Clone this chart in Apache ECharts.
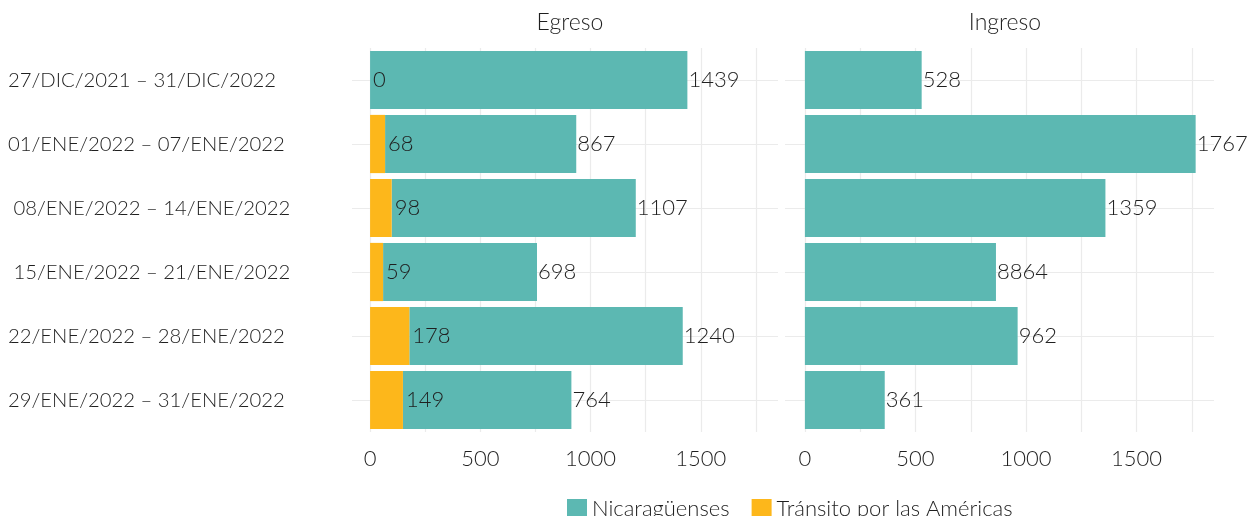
<!DOCTYPE html>
<html>
<head>
<meta charset="utf-8">
<script src="https://cdn.jsdelivr.net/npm/echarts@6/dist/echarts.min.js"></script>
<style>
  html, body { margin: 0; padding: 0; background: #fff; }
  #chart { width: 1249px; height: 516px; }
</style>
</head>
<body>
<div id="chart"></div>
<script>
// periodos (de arriba hacia abajo)
const categories = [
  "27/DIC/2021 – 31/DIC/2022",
  "01/ENE/2022 – 07/ENE/2022",
  " 08/ENE/2022 – 14/ENE/2022",
  " 15/ENE/2022 – 21/ENE/2022",
  "22/ENE/2022 – 28/ENE/2022",
  "29/ENE/2022 – 31/ENE/2022"
];
// Egreso
const egresoTransito = [0, 68, 98, 59, 178, 149];
const egresoNica = [1439, 867, 1107, 698, 1240, 764];
// Ingreso
const ingresoNica = [528, 1767, 1359, 864, 962, 361];
const ingresoLabels = ["528", "1767", "1359", "8864", "962", "361"]; // tal como aparece en la fuente
const tickLabels = [0, 500, 1000, 1500];
const gridValues = [0, 250, 500, 750, 1000, 1250, 1500, 1750];

const TEAL = "#5cb8b2";
const ORANGE = "#fdb71b";
const FONT = "Lato";
const TXT = "#1f1f1f";

const chart = echarts.init(document.getElementById("chart"));

// lineas de guia (verticales en valores, horizontales en el centro de cada categoria)
function guideLines() {
  const d = [];
  gridValues.forEach(v => d.push({ xAxis: v }));
  categories.forEach(c => d.push({ yAxis: c }));
  return d;
}
function guideSeries(idx) {
  return {
    type: "line",
    xAxisIndex: idx,
    yAxisIndex: idx,
    data: [],
    z: 0,
    silent: true,
    markLine: {
      z: 0,
      silent: true,
      symbol: ["none", "none"],
      label: { show: false },
      lineStyle: { color: "#ebebeb", width: 1.2, type: "solid" },
      animation: false,
      data: guideLines()
    }
  };
}

const valueAxis = (idx, min) => ({
  type: "value",
  gridIndex: idx,
  min: min,
  max: 1850,
  splitLine: { show: false },
  axisLine: { show: false },
  axisTick: { show: false },
  axisLabel: {
    customValues: tickLabels,
    formatter: v => String(v),
    margin: 16,
    color: TXT,
    fontFamily: FONT,
    fontWeight: 300,
    fontSize: 22
  }
});

const catAxis = (idx, showLabels) => ({
  type: "category",
  gridIndex: idx,
  inverse: true,
  data: categories,
  axisLine: { show: false },
  axisTick: { show: false },
  splitLine: { show: false },
  axisLabel: {
    show: showLabels,
    align: "left",
    margin: 344,
    color: TXT,
    fontFamily: FONT,
    fontWeight: 300,
    fontSize: 20.3
  }
});

const labelStyle = {
  color: TXT,
  fontFamily: FONT,
  fontWeight: 300,
  fontSize: 22
};

chart.setOption({
  backgroundColor: "#ffffff",
  animation: false,
  title: [
    { text: "Egreso", left: 565, top: 6, textAlign: "center",
      textStyle: { color: TXT, fontFamily: FONT, fontWeight: 300, fontSize: 23 } },
    { text: "Ingreso", left: 1000, top: 6, textAlign: "center",
      textStyle: { color: TXT, fontFamily: FONT, fontWeight: 300, fontSize: 23 } }
  ],
  legend: {
    left: 567,
    top: 498,
    padding: 0,
    icon: "rect",
    itemWidth: 20,
    itemHeight: 20,
    itemGap: 22,
    data: ["Nicaragüenses", "Tránsito por las Américas"],
    textStyle: { color: TXT, fontFamily: FONT, fontWeight: 300, fontSize: 22 }
  },
  grid: [
    { left: 352, width: 426, top: 48, height: 384 },
    { left: 785, width: 429, top: 48, height: 384 }
  ],
  xAxis: [valueAxis(0, -82), valueAxis(1, -90)],
  yAxis: [catAxis(0, true), catAxis(1, false)],
  series: [
    guideSeries(0),
    guideSeries(1),
    {
      name: "Tránsito por las Américas",
      type: "bar",
      stack: "egreso",
      xAxisIndex: 0,
      yAxisIndex: 0,
      barCategoryGap: "9%",
      z: 3,
      itemStyle: { color: ORANGE },
      label: Object.assign({ show: true, position: "right", distance: 3 }, labelStyle),
      data: egresoTransito
    },
    {
      name: "Nicaragüenses",
      type: "bar",
      stack: "egreso",
      xAxisIndex: 0,
      yAxisIndex: 0,
      barCategoryGap: "9%",
      z: 2,
      itemStyle: { color: TEAL },
      label: Object.assign({ show: true, position: "right", distance: 1 }, labelStyle),
      data: egresoNica
    },
    {
      name: "Nicaragüenses",
      type: "bar",
      xAxisIndex: 1,
      yAxisIndex: 1,
      barCategoryGap: "9%",
      z: 2,
      itemStyle: { color: TEAL },
      label: Object.assign({
        show: true,
        position: "right",
        distance: 1,
        formatter: p => ingresoLabels[p.dataIndex]
      }, labelStyle),
      data: ingresoNica
    }
  ]
});
</script>
</body>
</html>
